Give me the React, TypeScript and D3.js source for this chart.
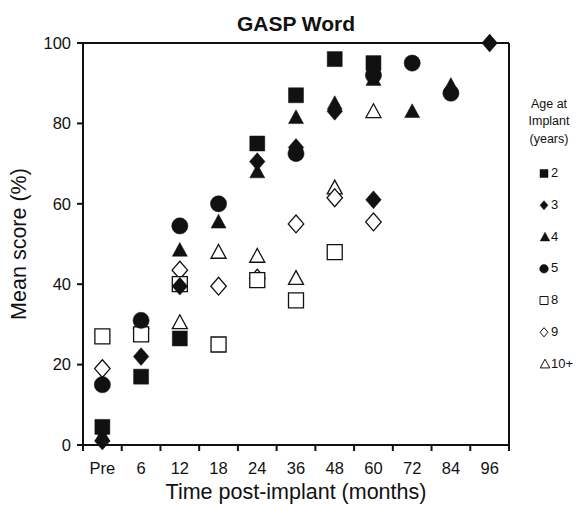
import React from "react";
import * as d3 from "d3";

const categories = ["Pre", "6", "12", "18", "24", "36", "48", "60", "72", "84", "96"];
const yTicks = [0, 20, 40, 60, 80, 100];

type V = number | null;
const age2: V[] = [4.5, 17, 26.5, null, 75, 87, 96, 95, null, null, null];
const age3: V[] = [1, 22, 39.5, null, 70.5, 74, 83, 61, null, null, 100];
const age4: V[] = [2.5, null, 48.5, 55.5, 68, 81.5, 85, 91, 83, 89.5, null];
const age5: V[] = [15, 31, 54.5, 60, null, 72.5, null, 92, 95, 87.5, null];
const age8: V[] = [27, 27.5, 40, 25, 41, 36, 48, null, null, null, null];
const age9: V[] = [19, 29, 43.5, 39.5, 41.5, 55, 61.5, 55.5, null, null, null];
const age10: V[] = [null, null, 30.5, 48, 47, 41.5, 64, 83, null, null, null];

const legendLabels = ["2", "3", "4", "5", "8", "9", "10+"];

type Shape = "square" | "diamond" | "triangle" | "circle";
const seriesDefs: { label: string; values: V[]; shape: Shape; filled: boolean }[] = [
  { label: "10+", values: age10, shape: "triangle", filled: false },
  { label: "9", values: age9, shape: "diamond", filled: false },
  { label: "8", values: age8, shape: "square", filled: false },
  { label: "5", values: age5, shape: "circle", filled: true },
  { label: "4", values: age4, shape: "triangle", filled: true },
  { label: "3", values: age3, shape: "diamond", filled: true },
  { label: "2", values: age2, shape: "square", filled: true },
];

function shapePath(shape: Shape, s: number): string {
  const h = s / 2;
  switch (shape) {
    case "square":
      return `M${-h},${-h}H${h}V${h}H${-h}Z`;
    case "diamond": {
      const hy = h * 1.15;
      return `M0,${-hy}L${h},0L0,${hy}L${-h},0Z`;
    }
    case "triangle": {
      const th = s * 0.92;
      return `M0,${-th * 0.55}L${h},${th * 0.45}L${-h},${th * 0.45}Z`;
    }
    case "circle":
      return `M${-h * 1.08},0A${h * 1.08},${h * 1.08} 0 1,0 ${h * 1.08},0A${h * 1.08},${h * 1.08} 0 1,0 ${-h * 1.08},0Z`;
  }
}

const W = 577;
const H = 505;
const left = 83;
const right = 509;
const top = 43;
const bottom = 445;
const font = "'Liberation Sans', Arial, sans-serif";

export default function App() {
  const x = d3.scaleBand<string>().domain(categories).range([left, right]).padding(0);
  const y = d3.scaleLinear().domain([0, 100]).range([bottom, top]);
  const bw = x.bandwidth();
  const tickXs = categories.map((c) => x(c)!).concat([right]);

  const legendY = d3.scaleLinear().domain([0, 6]).range([172.5, 363]);

  return (
    <svg width={W} height={H} style={{ position: "absolute", left: 0, top: 0, background: "#fff" }} fontFamily={font}>
      <rect x={0} y={0} width={W} height={H} fill="#fff" />
      {/* title */}
      <text x={(left + right) / 2} y={31} textAnchor="middle" fontSize={21} fontWeight="bold" fill="#111">
        GASP Word
      </text>
      {/* frame */}
      <line x1={left} x2={right} y1={top} y2={top} stroke="#111" strokeWidth={2} />
      <line x1={right} x2={right} y1={top} y2={bottom + 5} stroke="#111" strokeWidth={2} />
      <line x1={left} x2={left} y1={top} y2={bottom} stroke="#111" strokeWidth={2} />
      <line x1={left - 6} x2={right} y1={bottom} y2={bottom} stroke="#111" strokeWidth={2} />
      {/* y ticks */}
      {yTicks.map((t) => (
        <g key={"y" + t}>
          <line x1={left - 6} x2={left} y1={y(t)} y2={y(t)} stroke="#111" strokeWidth={2} />
          <text x={left - 12} y={y(t)} dy="0.35em" textAnchor="end" fontSize={16.5} fill="#111">
            {t}
          </text>
        </g>
      ))}
      {/* x ticks */}
      {tickXs.map((tx, i) => (
        <line key={"xt" + i} x1={tx} x2={tx} y1={bottom} y2={bottom + 6} stroke="#111" strokeWidth={2} />
      ))}
      {categories.map((c) => (
        <text key={"xl" + c} x={x(c)! + bw / 2} y={474} textAnchor="middle" fontSize={16.5} fill="#111">
          {c}
        </text>
      ))}
      {/* axis titles */}
      <text x={(left + right) / 2} y={499} textAnchor="middle" fontSize={21.5} fill="#111">
        Time post-implant (months)
      </text>
      <text
        transform={`translate(26,${(top + bottom) / 2}) rotate(-90)`}
        textAnchor="middle"
        fontSize={21.5}
        fill="#111"
      >
        Mean score (%)
      </text>
      {/* data */}
      {seriesDefs.map((s) =>
        s.values.map((v, i) =>
          v === null ? null : (
            <path
              key={s.label + "-" + i}
              d={shapePath(s.shape, s.shape === "diamond" ? 15.5 : 15)}
              transform={`translate(${x(categories[i])! + bw / 2},${y(v)})`}
              fill={s.filled ? "#111" : "#fff"}
              stroke="#111"
              strokeWidth={s.filled ? 0.5 : 1.3}
            />
          )
        )
      )}
      {/* legend */}
      <text x={549} y={108} textAnchor="middle" fontSize={12.5} fill="#111">Age at</text>
      <text x={549} y={125} textAnchor="middle" fontSize={12.5} fill="#111">Implant</text>
      <text x={549} y={143} textAnchor="middle" fontSize={12.5} fill="#111">(years)</text>
      {legendLabels.map((lab, i) => {
        const def = seriesDefs.find((d) => d.label === lab)!;
        const cy = legendY(i);
        return (
          <g key={"lg" + lab}>
            <path
              d={shapePath(def.shape, def.shape === "triangle" ? 9.5 : 8)}
              transform={`translate(${def.shape === "triangle" ? 545 : 544},${cy + 1})`}
              fill={def.filled ? "#111" : "#fff"}
              stroke="#111"
              strokeWidth={def.filled ? 0.5 : 1}
            />
            <text x={551} y={cy} dy="0.35em" fontSize={13} fill="#111">
              {lab}
            </text>
          </g>
        );
      })}
    </svg>
  );
}
